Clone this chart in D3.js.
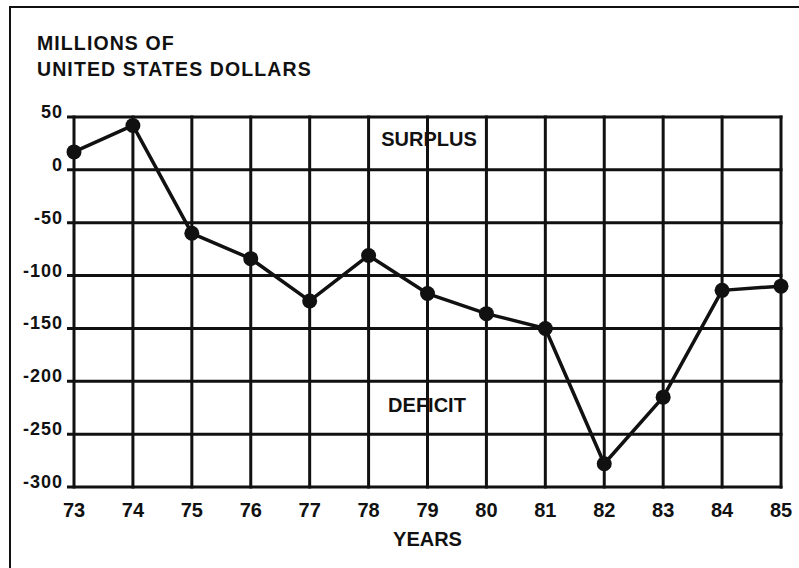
<!DOCTYPE html>
<html>
<head>
<meta charset="utf-8">
<script src="https://cdn.jsdelivr.net/npm/d3@7"></script>
<style>
  body { margin: 0; background: #fff; }
  svg { display: block; font-family: "Liberation Sans", Arial, Helvetica, sans-serif; }
</style>
</head>
<body>
<svg width="799" height="568"></svg>
<script>
// Balance values (millions of US dollars)
const years = [73, 74, 75, 76, 77, 78, 79, 80, 81, 82, 83, 84, 85];
const balance = [17, 42, -60, -84, -124, -81, -117, -136, -150, -278, -215, -114, -110];
const yTicks = [50, 0, -50, -100, -150, -200, -250, -300];

const svg = d3.select("svg");

// outer frame (runs off the right and bottom edges)
svg.append("rect")
   .attr("x", 10).attr("y", 7)
   .attr("width", 800).attr("height", 580)
   .attr("fill", "none")
   .attr("stroke", "#111")
   .attr("stroke-width", 2);

// Scales
const x = d3.scaleLinear().domain([73, 85]).range([74, 781]);
const y = d3.scaleLinear().domain([-300, 50]).range([487, 117]);

// Title
const title = svg.append("text")
   .attr("x", 37)
   .attr("font-size", 19.5)
   .attr("font-weight", "bold")
   .attr("letter-spacing", 1.1)
   .attr("fill", "#111");
title.append("tspan").attr("x", 37).attr("y", 50).text("MILLIONS OF");
title.append("tspan").attr("x", 37).attr("y", 76).text("UNITED STATES DOLLARS");

// Grid
const grid = svg.append("g").attr("stroke", "#111").attr("stroke-width", 3);
grid.selectAll(".h")
    .data(yTicks)
    .enter()
    .append("line")
    .attr("x1", 67).attr("x2", x(85) + 1.5)
    .attr("y1", d => y(d)).attr("y2", d => y(d));
grid.selectAll(".v")
    .data(years)
    .enter()
    .append("line")
    .attr("x1", d => x(d)).attr("x2", d => x(d))
    .attr("y1", y(50) - 1.5).attr("y2", y(-300) + 1.5);

// Y labels
svg.append("g")
   .selectAll("text")
   .data(yTicks)
   .enter()
   .append("text")
   .attr("x", 63)
   .attr("y", d => y(d) + 1)
   .attr("text-anchor", "end")
   .attr("font-size", 18)
   .attr("font-weight", "bold")
   .attr("letter-spacing", 1)
   .attr("fill", "#111")
   .text(d => d);

// X labels
svg.append("g")
   .selectAll("text")
   .data(years)
   .enter()
   .append("text")
   .attr("x", d => x(d))
   .attr("y", 517)
   .attr("text-anchor", "middle")
   .attr("font-size", 20)
   .attr("font-weight", "bold")
   .attr("fill", "#111")
   .text(d => d);

svg.append("text")
   .attr("x", x(79))
   .attr("y", 546)
   .attr("text-anchor", "middle")
   .attr("font-size", 20)
   .attr("font-weight", "bold")
   .attr("fill", "#111")
   .text("YEARS");

// Surplus / deficit labels
svg.append("text")
   .attr("x", 429).attr("y", 146)
   .attr("text-anchor", "middle")
   .attr("font-size", 20).attr("font-weight", "bold")
   .attr("fill", "#111")
   .text("SURPLUS");
svg.append("text")
   .attr("x", 427).attr("y", 412)
   .attr("text-anchor", "middle")
   .attr("font-size", 20).attr("font-weight", "bold")
   .attr("fill", "#111")
   .text("DEFICIT");

// Line and dots
const pts = years.map((yr, i) => ({year: yr, value: balance[i]}));
svg.append("path")
   .datum(pts)
   .attr("fill", "none")
   .attr("stroke", "#111")
   .attr("stroke-width", 3.5)
   .attr("stroke-linejoin", "round")
   .attr("d", d3.line().x(d => x(d.year)).y(d => y(d.value)));

svg.selectAll(".dot")
   .data(pts)
   .enter()
   .append("circle")
   .attr("class", "dot")
   .attr("cx", d => x(d.year))
   .attr("cy", d => y(d.value))
   .attr("r", 7.5)
   .attr("fill", "#111");
</script>
</body>
</html>
